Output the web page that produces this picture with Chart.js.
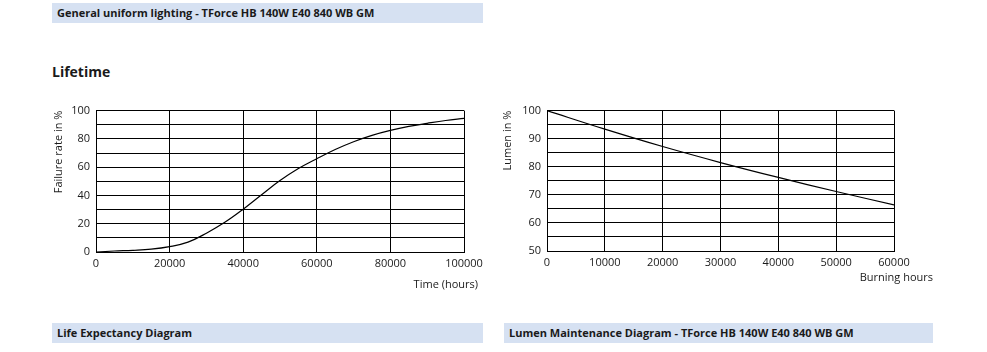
<!DOCTYPE html>
<html>
<head>
<meta charset="utf-8">
<script src="https://cdn.jsdelivr.net/npm/chart.js@4.4.0/dist/chart.umd.min.js"></script>
<style>
  body { margin: 0; background: #fff; width: 987px; height: 352px; position: relative; overflow: hidden;
         font-family: 'Open Sans', sans-serif; color: #1a1a1a; }
  .banner { position: absolute; height: 20px; line-height: 20px; background: #d6e1f2;
            font-size: 11px; font-weight: 700; padding-left: 5px; box-sizing: border-box; }
  .title { position: absolute; left: 52px; top: 62px; font-size: 14px; font-weight: 700; }
  .xtitle { position: absolute; font-size: 11px; text-align: right; }
  .box { position: absolute; }
</style>
</head>
<body>
<div class="banner" style="left:52px; top:3px; width:431px;">General uniform lighting - TForce HB 140W E40 840 WB GM</div>
<div class="title">Lifetime</div>

<div class="box" style="left:52px; top:98px; width:433px; height:194px;"><canvas id="lifeChart"></canvas></div>
<div class="xtitle" style="left:380px; top:276px; width:98px;">Time (hours)</div>

<div class="box" style="left:501px; top:98px; width:414px; height:193px;"><canvas id="lumenChart"></canvas></div>
<div class="xtitle" style="left:820px; top:269px; width:113px;">Burning hours</div>

<div class="banner" style="left:52px; top:323px; width:431px;">Life Expectancy Diagram</div>
<div class="banner" style="left:504px; top:323px; width:429px;">Lumen Maintenance Diagram - TForce HB 140W E40 840 WB GM</div>

<script>
// Life expectancy: failure rate (%) vs time (hours)
const lifeHours = [0, 5000, 10000, 15000, 20000, 25000, 30000, 35000, 40000, 45000, 50000,
                   55000, 60000, 65000, 70000, 75000, 80000, 85000, 90000, 95000, 100000];
const lifeFailure = [0, 0.7, 1.2, 2, 3.8, 7, 13.3, 21, 30.3, 40.5, 50.5,
                     59, 66, 72.5, 78, 82.5, 86, 88.8, 91, 93, 94.5];

// Lumen maintenance: lumen (%) vs burning hours
const lumenHours = [0, 10000, 20000, 30000, 40000, 50000, 60000];
const lumenValues = [100, 93.4, 87.2, 81.5, 76.2, 71.2, 66.4];

const tickFont = { family: "'Open Sans', sans-serif", size: 11 };

function toPoints(xs, ys) {
    return xs.map((x, i) => ({ x: x, y: ys[i] }));
}

function makeChart(id, xs, ys, cfg) {
    const ctx = document.getElementById(id).getContext('2d');
    return new Chart(ctx, {
        type: 'line',
        data: {
            datasets: [{
                data: toPoints(xs, ys),
                borderColor: '#000',
                borderWidth: 1.2,
                pointRadius: 0,
                tension: 0.4,
                fill: false
            }]
        },
        options: {
            responsive: true,
            maintainAspectRatio: false,
            animation: false,
            layout: { padding: { top: 12, right: cfg.padRight, left: 0, bottom: 0 } },
            plugins: { legend: { display: false }, tooltip: { enabled: false } },
            scales: {
                x: {
                    type: 'linear',
                    min: 0,
                    max: cfg.xMax,
                    afterFit: s => { s.height = cfg.xHeight; s.paddingLeft = 0; s.paddingRight = 0; },
                    grid: { color: '#000', lineWidth: 1, drawTicks: false },
                    border: { color: '#000', width: 1 },
                    ticks: {
                        stepSize: cfg.xStep,
                        autoSkip: false,
                        maxRotation: 0,
                        padding: 5,
                        color: '#1a1a1a',
                        font: tickFont,
                        callback: v => String(v)
                    }
                },
                y: {
                    min: cfg.yMin,
                    max: 100,
                    afterFit: s => { s.width = cfg.yWidth; },
                    grid: { color: '#000', lineWidth: 1, drawTicks: false },
                    border: { color: '#000', width: 1 },
                    title: {
                        display: true,
                        text: cfg.yTitle,
                        align: 'end',
                        color: '#1a1a1a',
                        font: tickFont,
                        padding: 0
                    },
                    ticks: {
                        stepSize: cfg.yStep,
                        autoSkip: false,
                        padding: 6,
                        color: '#1a1a1a',
                        font: tickFont,
                        callback: v => (v % cfg.yLabelStep === 0 ? String(v) : '')
                    }
                }
            }
        }
    });
}

makeChart('lifeChart', lifeHours, lifeFailure, {
    xMax: 100000, xStep: 20000, yMin: 0, yStep: 10, yLabelStep: 20,
    yTitle: 'Failure rate in %', yWidth: 44, padRight: 21, xHeight: 40
});

makeChart('lumenChart', lumenHours, lumenValues, {
    xMax: 60000, xStep: 10000, yMin: 50, yStep: 5, yLabelStep: 10,
    yTitle: 'Lumen in %', yWidth: 46, padRight: 21, xHeight: 40
});
</script>
</body>
</html>
